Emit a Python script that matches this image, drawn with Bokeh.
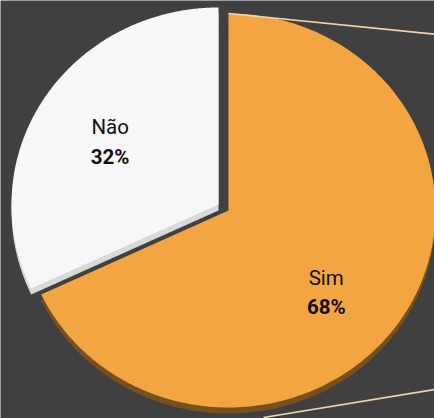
import numpy as np
from bokeh.plotting import figure
from bokeh.models import ColumnDataSource, Range1d
from bokeh.core.properties import value
from bokeh.embed import file_html
from bokeh.resources import INLINE

# ---- data ----
categories = ["Sim", "Não"]
values = [68, 32]

# ---- style / layout ----
W, H = 434, 418
RX, RY = 207.0, 197.0          # pixel radii of the (tilted) pie
CX, CY = 228.0, 210.0          # pixel position of the pie centre
BG = "#404040"
top_colors = ["#F3A541", "#F7F7F7"]
side_colors = ["#77501F", "#D9D9D9"]
explode_px = [(0.0, 0.0), (-10.0, 6.0)]   # (dx, dy-up) per slice in pixels
depth_px = 6.0
label_shift_deg = [8.0, 0.0]
label_r = 0.62
label_lift_px = 12.0
line_color = "#F2D3AE"

p = figure(width=W, height=H, output_backend="svg", toolbar_location=None,
           min_border=0, background_fill_color=BG, border_fill_color=BG,
           outline_line_color=None)
p.x_range = Range1d(-CX / RX, (W - CX) / RX)
p.y_range = Range1d(-(H - CY) / RY, CY / RY)
p.axis.visible = False
p.grid.visible = False

fr = np.array(values, dtype=float) / sum(values)
ends = np.cumsum(fr) * 2 * np.pi
starts = ends - fr * 2 * np.pi

depth = depth_px / RY

def slice_poly(a0, a1, ox, oy, dy=0.0):
    t = np.linspace(a0, a1, 240)
    xs = np.concatenate([[ox], ox + np.sin(t), [ox]])
    ys = np.concatenate([[oy], oy + np.cos(t), [oy]]) - dy
    return list(xs), list(ys)

# draw exploded slice (Não) first, then Sim
order = [1, 0]
for i in order:
    ox = explode_px[i][0] / RX
    oy = explode_px[i][1] / RY
    xs, ys = slice_poly(starts[i], ends[i], ox, oy, depth)
    p.patch(xs, ys, fill_color=side_colors[i], line_color=None)
    xs, ys = slice_poly(starts[i], ends[i], ox, oy)
    p.patch(xs, ys, fill_color=top_colors[i], line_color=None)

# connector lines to secondary plot (off to the right)
p.segment(x0=[0.0, 35 / RX], y0=[1.0, -207 / RY],
          x1=[(W - CX) / RX, (W - CX) / RX], y1=[(CY - 33.7) / RY, (CY - 389) / RY],
          line_color=line_color, line_width=1.6)

# labels
lx, ly = [], []
for i in range(len(values)):
    mid = (starts[i] + ends[i]) / 2 + np.radians(label_shift_deg[i])
    ox = explode_px[i][0] / RX
    oy = explode_px[i][1] / RY
    lx.append(ox + label_r * np.sin(mid))
    ly.append(oy + label_r * np.cos(mid) + label_lift_px / RY)
pct = [f"{round(v / sum(values) * 100)}%" for v in values]
src = ColumnDataSource(dict(x=lx, y=ly, y2=[y - 29.5 / RY for y in ly],
                            name=categories, pct=pct))
p.text(x="x", y="y", text="name", source=src, text_font=value("Roboto"),
       text_font_size="20.5px", text_color="#111111", text_align="center",
       text_baseline="alphabetic")
p.text(x="x", y="y2", text="pct", source=src, text_font=value("Roboto"),
       text_font_size="20.5px", text_font_style="bold", text_color="#111111",
       text_align="center", text_baseline="alphabetic")

html = file_html(p, INLINE)
html = html.replace("<body>", f'<body style="margin:0;overflow:hidden;background-color:{BG};">', 1)
open("out.html", "w").write(html)
